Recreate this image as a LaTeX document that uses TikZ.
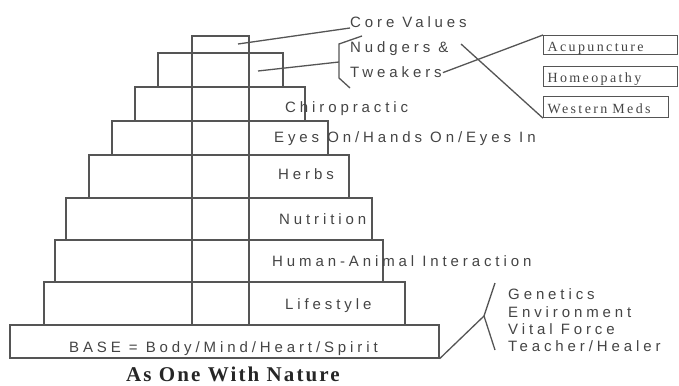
\documentclass[tikz,border=0pt]{standalone}
\usepackage{fontspec}
\setmainfont{Liberation Sans}
\newfontfamily\lblfont[LetterSpace=26]{Liberation Sans}
\newfontfamily\boxfont[LetterSpace=17]{Liberation Serif}
\newfontfamily\ttlfont[LetterSpace=10]{Liberation Serif}
\definecolor{ln}{RGB}{85,85,85}
\definecolor{tx}{RGB}{68,68,68}
\begin{document}
\begin{tikzpicture}[x=1pt,y=-1pt,
  tier/.style={draw=ln, line width=1.3pt, inner sep=0pt},
  conn/.style={draw=ln, line width=1.3pt},
  lbl/.style={inner sep=0pt, anchor=base west, text=tx, font=\lblfont\fontsize{15}{17}\selectfont},
  rbox/.style={draw=ln, line width=1.2pt, inner xsep=4pt, inner ysep=0pt, text height=12pt, text depth=0pt, align=left, anchor=north west, text=tx, font=\boxfont\fontsize{14}{16}\selectfont},
  ttl/.style={inner sep=0pt, anchor=base, text=black!85, font=\ttlfont\bfseries\fontsize{21}{24}\selectfont}]
\useasboundingbox (0,0) rectangle (679,385);
% pyramid tiers
\node[tier, minimum width=57pt,  minimum height=17pt] (t1) at (220.5,44.5) {};
\node[tier, minimum width=125pt, minimum height=34pt] (t2) at (220.5,70) {};
\node[tier, minimum width=170pt, minimum height=34pt] (t3) at (220,104) {};
\node[tier, minimum width=216pt, minimum height=34pt] (t4) at (220,138) {};
\node[tier, minimum width=260pt, minimum height=43pt] (t5) at (219,176.5) {};
\node[tier, minimum width=306pt, minimum height=42pt] (t6) at (219,219) {};
\node[tier, minimum width=328pt, minimum height=42pt] (t7) at (219,261) {};
\node[tier, minimum width=361pt, minimum height=43pt] (t8) at (224.5,303.5) {};
\node[tier, minimum width=429pt, minimum height=33pt] (base) at (224.5,341.5) {};
% column lines
\coordinate (v1t) at (192,36); \coordinate (v1b) at (192,325);
\coordinate (v2t) at (249,36); \coordinate (v2b) at (249,325);
\draw[conn] (v1t) -- (v1b);
\draw[conn] (v2t) -- (v2b);
% labels
\node[lbl] (cv) at (350,28) {Core Values};
\node[lbl] (nd) at (350,53) {Nudgers \&};
\node[lbl] (tw) at (350,78) {Tweakers};
\node[lbl] (ch) at (285,113) {Chiropractic};
\node[lbl] (ey) at (274,142) {Eyes On/Hands On/Eyes In};
\node[lbl] (hb) at (278,179) {Herbs};
\node[lbl] (nu) at (279,224) {Nutrition};
\node[lbl] (ha) at (272,266) {Human-Animal Interaction};
\node[lbl] (lf) at (285,309) {Lifestyle};
\node[lbl] (bt) at (69,352) {BASE = Body/Mind/Heart/Spirit};
\node[lbl] (g1) at (508,299) {Genetics};
\node[lbl] (g2) at (508,317) {Environment};
\node[lbl] (g3) at (508,334) {Vital Force};
\node[lbl] (g4) at (508,351) {Teacher/Healer};
\node[ttl] (title) at (233,381) {As One With Nature};
% right boxes
\node[rbox, text width=126pt, minimum height=19pt] (acu) at (543,35) {Acupuncture};
\node[rbox, text width=126pt, minimum height=20pt] (hom) at (543,66) {Homeopathy};
\node[rbox, text width=117pt, minimum height=21pt] (wm) at (543,96) {Western\hspace{5pt}Meds};
% connectors
\coordinate (c1) at (238,44);
\draw[conn] (c1) -- (cv.base west);
\coordinate (b1) at (362,36);
\coordinate (b2) at (339,44);
\coordinate (bm) at (339,62);
\coordinate (b3) at (339,78);
\coordinate (b4) at (350,88);
\draw[conn] (b1) -- (b2) -- (b3) -- (b4);
\coordinate (c2) at (258,71);
\draw[conn] (c2) -- (bm);
\draw[conn] ([xshift=1pt]tw.east) -- (acu.north west);
\coordinate (c3) at (461,44);
\draw[conn] (c3) -- (wm.south west);
\coordinate (j) at (484,316);
\coordinate (k1) at (495,283);
\coordinate (k2) at (495,350);
\draw[conn] (base.south east) -- (j);
\draw[conn] (k1) -- (j) -- (k2);
\end{tikzpicture}
\end{document}
